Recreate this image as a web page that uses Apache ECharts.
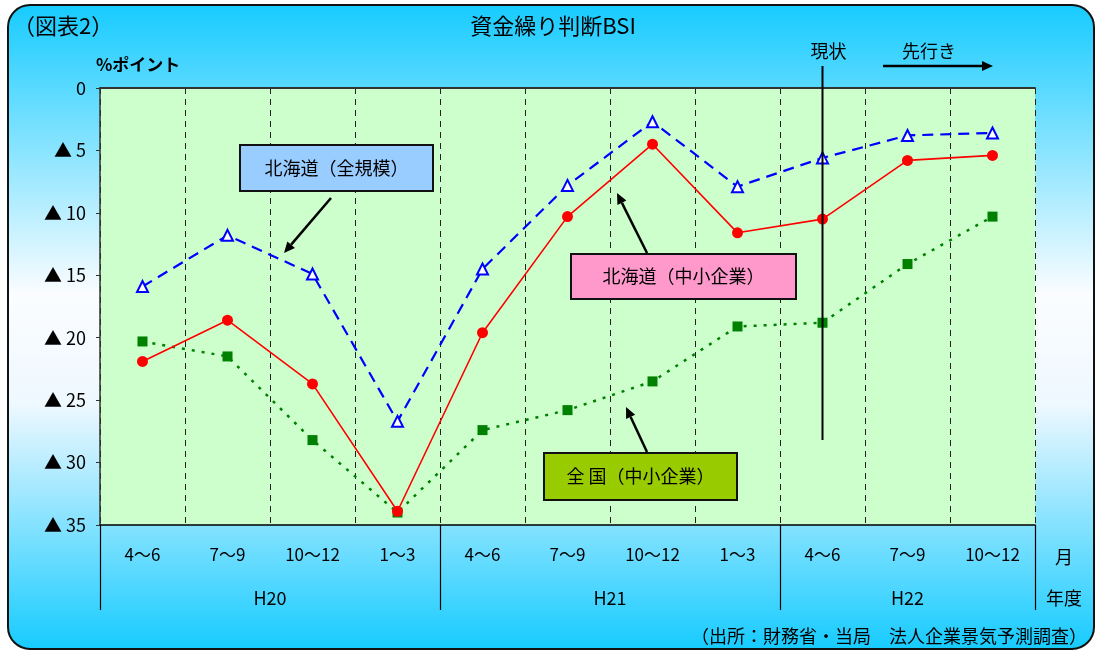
<!DOCTYPE html>
<html>
<head>
<meta charset="utf-8">
<script src="https://cdn.jsdelivr.net/npm/echarts@6/dist/echarts.min.js"></script>
<style>
  html, body { margin: 0; padding: 0; background: #fff; }
  #chart { width: 1101px; height: 654px; }
</style>
</head>
<body>
<div id="chart"></div>
<script>
// 四半期ラベル
const months = ['4～6', '7～9', '10～12', '1～3', '4～6', '7～9', '10～12', '1～3', '4～6', '7～9', '10～12'];
// 年度ラベルと区切り位置（四半期単位）
const yearLabels = ['H20', 'H21', 'H22'];
const yearLabelPos = [2, 6, 9.5];
const yearBounds = [0, 4, 8, 11];
// BSI（▲表示、値はマイナス幅）
const hokkaidoAll = [15.9, 11.8, 14.9, 26.7, 14.5, 7.8, 2.7, 7.9, 5.6, 3.8, 3.6];
const hokkaidoSme = [21.9, 18.6, 23.7, 33.9, 19.6, 10.3, 4.5, 11.6, 10.5, 5.8, 5.4];
const nationSme = [20.3, 21.5, 28.2, 34.0, 27.4, 25.8, 23.5, 19.1, 18.8, 14.1, 10.3];
const currentIndex = 8; // 現状

const FONT = '"Noto Sans CJK JP", "Noto Sans", sans-serif';
const chart = echarts.init(document.getElementById('chart'));

function arrow(x1, y1, x2, y2) {
  const a = Math.atan2(y2 - y1, x2 - x1);
  const L = 11, W = 5;
  const bx = x2 - L * Math.cos(a), by = y2 - L * Math.sin(a);
  return [
    { type: 'line', z: 50, shape: { x1: x1, y1: y1, x2: bx, y2: by }, style: { stroke: '#000', lineWidth: 2.5 } },
    { type: 'polygon', z: 50, shape: { points: [[x2, y2], [bx - W * Math.sin(a), by + W * Math.cos(a)], [bx + W * Math.sin(a), by - W * Math.cos(a)]] }, style: { fill: '#000' } }
  ];
}

function box(x, y, w, h, fill, text) {
  return [
    { type: 'rect', z: 50, shape: { x: x, y: y, width: w, height: h }, style: { fill: fill, stroke: '#111', lineWidth: 2 } },
    { type: 'text', z: 51, x: x + w / 2, y: y + h / 2, style: { text: text, fill: '#000', font: '18px ' + FONT, align: 'center', verticalAlign: 'middle' } }
  ];
}

function txt(x, y, text, size, align, weight) {
  return { type: 'text', z: 50, x: x, y: y, style: { text: text, fill: '#000', font: (weight || 'normal') + ' ' + size + 'px ' + FONT, align: align || 'center', verticalAlign: 'middle' } };
}

const option = {
  animation: false,
  textStyle: { fontFamily: FONT },
  grid: { left: 100, right: 66, top: 88, bottom: 129, show: true, backgroundColor: '#ccffcc', borderWidth: 0 },
  xAxis: [
    {
      type: 'category',
      data: months,
      position: 'bottom',
      axisLine: { onZero: false, lineStyle: { color: '#000', width: 1.5 } },
      axisTick: { length: 35, lineStyle: { color: '#000', width: 1.2 } },
      axisLabel: { color: '#000', fontSize: 17, margin: 21 },
      splitLine: { show: true, lineStyle: { color: '#222', width: 1, type: [6, 5] } }
    },
    {
      type: 'value',
      min: 0,
      max: 11,
      position: 'bottom',
      axisLine: { show: false, onZero: false },
      axisTick: { show: true, customValues: yearBounds, length: 85, lineStyle: { color: '#000', width: 1.2 } },
      axisLabel: {
        customValues: yearLabelPos, color: '#000', fontSize: 18, margin: 64,
        formatter: function (v) { const i = yearLabelPos.indexOf(v); return i >= 0 ? yearLabels[i] : ''; }
      },
      splitLine: { show: false }
    },
    {
      type: 'category',
      data: months,
      position: 'top',
      axisLine: { onZero: false, lineStyle: { color: '#333', width: 2 } },
      axisTick: { length: 8, lineStyle: { color: '#222', width: 1 } },
      axisLabel: { show: false },
      splitLine: { show: false }
    }
  ],
  yAxis: {
    type: 'value',
    inverse: true,
    min: 0,
    max: 35,
    interval: 5,
    axisLine: { show: true, onZero: false, lineStyle: { color: '#333', width: 1.5 } },
    axisTick: { show: true, length: 4, lineStyle: { color: '#333' } },
    axisLabel: { color: '#000', fontSize: 18, margin: 14, formatter: function (v) { return v === 0 ? '0' : '▲ ' + v; } },
    splitLine: { show: false }
  },
  series: [
    {
      name: '北海道（全規模）',
      type: 'line',
      data: hokkaidoAll,
      symbol: 'triangle',
      symbolSize: 11,
      lineStyle: { color: '#0000ff', width: 2.2, type: [11, 7] },
      itemStyle: { color: '#ffffff', borderColor: '#0000ff', borderWidth: 2 },
      z: 3
    },
    {
      name: '全国（中小企業）',
      type: 'line',
      data: nationSme,
      symbol: 'rect',
      symbolSize: 10,
      lineStyle: { color: '#008000', width: 2.5, type: [3, 7] },
      itemStyle: { color: '#008000' },
      z: 4
    },
    {
      name: '北海道（中小企業）',
      type: 'line',
      data: hokkaidoSme,
      symbol: 'circle',
      symbolSize: 11,
      lineStyle: { color: '#ff0000', width: 1.6 },
      itemStyle: { color: '#ff0000' },
      z: 5
    }
  ]
};

chart.setOption(option);

const cx = chart.convertToPixel({ xAxisIndex: 0 }, currentIndex);

chart.setOption({
  graphic: [
    {
      type: 'rect', z: -100,
      shape: { x: 8, y: 5, width: 1086, height: 644, r: 22 },
      style: {
        stroke: '#111', lineWidth: 2,
        fill: new echarts.graphic.LinearGradient(0, 0, 0, 1, [
          { offset: 0, color: '#16cbff' },
          { offset: 0.45, color: '#fbfdff' },
          { offset: 0.62, color: '#eef8ff' },
          { offset: 1, color: '#16cbff' }
        ])
      }
    },
    txt(13, 26, '（図表2）', 22, 'left'),
    txt(553, 26, '資金繰り判断BSI', 22),
    txt(96, 65, '%ポイント', 17, 'left', 'bold'),
    txt(cx + 6, 51, '現状', 18),
    txt(929, 51, '先行き', 18),
    { type: 'line', z: 60, shape: { x1: cx, y1: 66, x2: cx, y2: 440 }, style: { stroke: '#000', lineWidth: 2 } },
    ...arrow(883, 66, 993, 66),
    ...box(240, 145, 193, 46, '#99ccff', '北海道（全規模）'),
    ...arrow(331, 198, 284, 253),
    ...box(571, 254, 225, 45, '#ff99cc', '北海道（中小企業）'),
    ...arrow(647, 253, 617, 193),
    ...box(544, 453, 193, 47, '#99cc00', '全 国（中小企業）'),
    ...arrow(647, 452, 626, 407),
    txt(1064, 557, '月', 18),
    txt(1064, 598, '年度', 18),
    txt(1087, 636, '（出所：財務省・当局　法人企業景気予測調査）', 18, 'right')
  ]
});
</script>
</body>
</html>
